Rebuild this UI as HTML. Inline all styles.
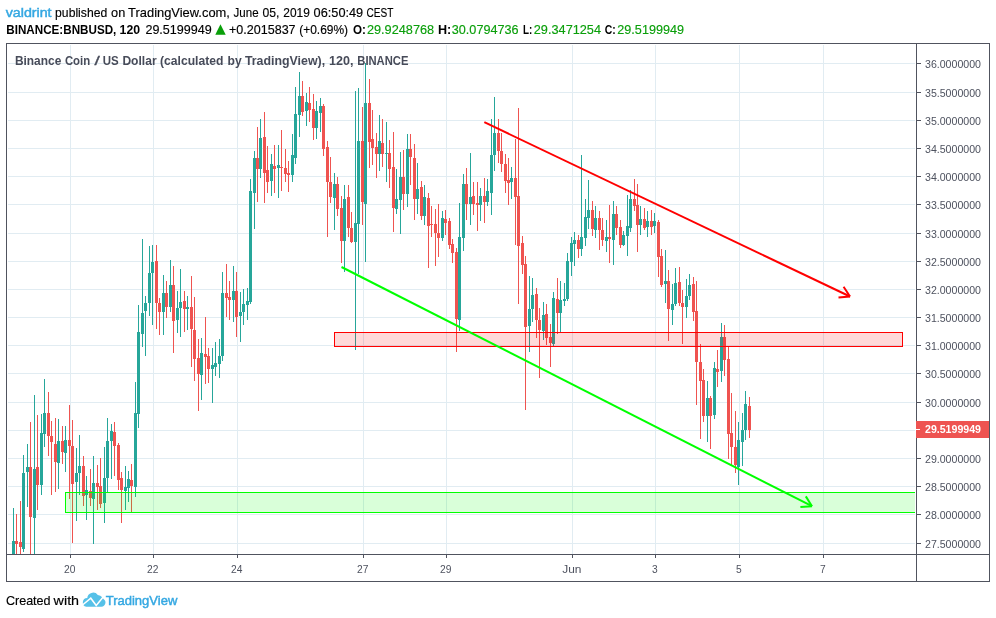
<!DOCTYPE html>
<html lang="en"><head><meta charset="utf-8"><title>BNBUSD chart by valdrint - TradingView</title>
<style>
html,body{margin:0;padding:0;background:#fff;}
body{width:996px;height:618px;overflow:hidden;position:relative;font-family:"Liberation Sans",sans-serif;}
svg{position:absolute;left:0;top:0;display:block;}
text{font-family:"Liberation Sans",sans-serif;}
.ax{font-size:10.6px;fill:#4e525f;}
.hd{font-size:12.7px;fill:#000;stroke:#000;stroke-width:0.15px;}
.b{font-weight:bold;stroke-width:0;}
.gn{fill:#0a9f0a;stroke:#0a9f0a;}
.bl{fill:#35a8e2;stroke:#35a8e2;stroke-width:0.45px;}
.tt{font-size:12.8px;font-weight:bold;fill:#474b59;}
.cs rect{shape-rendering:crispEdges;}
</style></head><body>
<svg width="996" height="618" viewBox="0 0 996 618">
<rect x="0" y="0" width="996" height="618" fill="#fff"/>
<g class="cs" fill="#e1ecf2">
<rect x="8" y="63" width="907" height="1"/>
<rect x="8" y="92" width="907" height="1"/>
<rect x="8" y="120" width="907" height="1"/>
<rect x="8" y="148" width="907" height="1"/>
<rect x="8" y="176" width="907" height="1"/>
<rect x="8" y="204" width="907" height="1"/>
<rect x="8" y="233" width="907" height="1"/>
<rect x="8" y="261" width="907" height="1"/>
<rect x="8" y="289" width="907" height="1"/>
<rect x="8" y="317" width="907" height="1"/>
<rect x="8" y="345" width="907" height="1"/>
<rect x="8" y="373" width="907" height="1"/>
<rect x="8" y="402" width="907" height="1"/>
<rect x="8" y="430" width="907" height="1"/>
<rect x="8" y="458" width="907" height="1"/>
<rect x="8" y="486" width="907" height="1"/>
<rect x="8" y="514" width="907" height="1"/>
<rect x="8" y="543" width="907" height="1"/>
<rect x="70" y="45" width="1" height="509"/>
<rect x="153" y="45" width="1" height="509"/>
<rect x="237" y="45" width="1" height="509"/>
<rect x="363" y="45" width="1" height="509"/>
<rect x="446" y="45" width="1" height="509"/>
<rect x="572" y="45" width="1" height="509"/>
<rect x="655" y="45" width="1" height="509"/>
<rect x="739" y="45" width="1" height="509"/>
<rect x="823" y="45" width="1" height="509"/>
</g>
<g class="cs">
<rect x="13" y="508" width="1" height="46" fill="#26a69a"/>
<rect x="12" y="541" width="3" height="13" fill="#26a69a"/>
<rect x="16" y="514" width="1" height="40" fill="#ef5350"/>
<rect x="15" y="541" width="3" height="3" fill="#ef5350"/>
<rect x="20" y="501" width="1" height="53" fill="#ef5350"/>
<rect x="19" y="542" width="3" height="5" fill="#ef5350"/>
<rect x="23" y="455" width="1" height="97" fill="#26a69a"/>
<rect x="22" y="473" width="3" height="76" fill="#26a69a"/>
<rect x="27" y="444" width="1" height="63" fill="#26a69a"/>
<rect x="26" y="467" width="3" height="5" fill="#26a69a"/>
<rect x="30" y="422" width="1" height="132" fill="#ef5350"/>
<rect x="29" y="467" width="3" height="50" fill="#ef5350"/>
<rect x="34" y="395" width="1" height="159" fill="#26a69a"/>
<rect x="33" y="469" width="3" height="49" fill="#26a69a"/>
<rect x="37" y="415" width="1" height="95" fill="#ef5350"/>
<rect x="36" y="467" width="3" height="18" fill="#ef5350"/>
<rect x="41" y="414" width="1" height="81" fill="#26a69a"/>
<rect x="40" y="433" width="3" height="52" fill="#26a69a"/>
<rect x="44" y="379" width="1" height="68" fill="#26a69a"/>
<rect x="43" y="413" width="3" height="21" fill="#26a69a"/>
<rect x="48" y="392" width="1" height="64" fill="#ef5350"/>
<rect x="47" y="413" width="3" height="23" fill="#ef5350"/>
<rect x="51" y="421" width="1" height="74" fill="#ef5350"/>
<rect x="50" y="436" width="3" height="6" fill="#ef5350"/>
<rect x="55" y="418" width="1" height="74" fill="#ef5350"/>
<rect x="54" y="444" width="3" height="18" fill="#ef5350"/>
<rect x="58" y="419" width="1" height="70" fill="#26a69a"/>
<rect x="57" y="441" width="3" height="22" fill="#26a69a"/>
<rect x="62" y="426" width="1" height="38" fill="#ef5350"/>
<rect x="61" y="441" width="3" height="11" fill="#ef5350"/>
<rect x="65" y="426" width="1" height="46" fill="#26a69a"/>
<rect x="64" y="440" width="3" height="13" fill="#26a69a"/>
<rect x="69" y="405" width="1" height="94" fill="#ef5350"/>
<rect x="68" y="440" width="3" height="6" fill="#ef5350"/>
<rect x="72" y="420" width="1" height="123" fill="#ef5350"/>
<rect x="71" y="446" width="3" height="38" fill="#ef5350"/>
<rect x="76" y="448" width="1" height="73" fill="#26a69a"/>
<rect x="75" y="473" width="3" height="9" fill="#26a69a"/>
<rect x="79" y="435" width="1" height="60" fill="#26a69a"/>
<rect x="78" y="466" width="3" height="7" fill="#26a69a"/>
<rect x="83" y="456" width="1" height="50" fill="#ef5350"/>
<rect x="82" y="466" width="3" height="30" fill="#ef5350"/>
<rect x="86" y="476" width="1" height="44" fill="#26a69a"/>
<rect x="85" y="490" width="3" height="5" fill="#26a69a"/>
<rect x="90" y="469" width="1" height="37" fill="#ef5350"/>
<rect x="89" y="491" width="3" height="7" fill="#ef5350"/>
<rect x="93" y="456" width="1" height="88" fill="#26a69a"/>
<rect x="92" y="483" width="3" height="16" fill="#26a69a"/>
<rect x="97" y="465" width="1" height="45" fill="#ef5350"/>
<rect x="96" y="483" width="3" height="4" fill="#ef5350"/>
<rect x="100" y="458" width="1" height="50" fill="#ef5350"/>
<rect x="99" y="486" width="3" height="18" fill="#ef5350"/>
<rect x="104" y="447" width="1" height="76" fill="#26a69a"/>
<rect x="103" y="478" width="3" height="25" fill="#26a69a"/>
<rect x="107" y="418" width="1" height="75" fill="#26a69a"/>
<rect x="106" y="441" width="3" height="37" fill="#26a69a"/>
<rect x="111" y="424" width="1" height="55" fill="#26a69a"/>
<rect x="110" y="431" width="3" height="10" fill="#26a69a"/>
<rect x="114" y="422" width="1" height="54" fill="#ef5350"/>
<rect x="113" y="432" width="3" height="14" fill="#ef5350"/>
<rect x="118" y="443" width="1" height="47" fill="#ef5350"/>
<rect x="117" y="445" width="3" height="35" fill="#ef5350"/>
<rect x="121" y="472" width="1" height="51" fill="#ef5350"/>
<rect x="120" y="478" width="3" height="12" fill="#ef5350"/>
<rect x="125" y="466" width="1" height="44" fill="#26a69a"/>
<rect x="124" y="487" width="3" height="4" fill="#26a69a"/>
<rect x="128" y="471" width="1" height="31" fill="#26a69a"/>
<rect x="127" y="479" width="3" height="9" fill="#26a69a"/>
<rect x="131" y="464" width="1" height="48" fill="#ef5350"/>
<rect x="130" y="480" width="3" height="6" fill="#ef5350"/>
<rect x="135" y="382" width="1" height="115" fill="#26a69a"/>
<rect x="134" y="413" width="3" height="74" fill="#26a69a"/>
<rect x="138" y="305" width="1" height="123" fill="#26a69a"/>
<rect x="137" y="332" width="3" height="82" fill="#26a69a"/>
<rect x="142" y="239" width="1" height="108" fill="#26a69a"/>
<rect x="141" y="313" width="3" height="21" fill="#26a69a"/>
<rect x="145" y="296" width="1" height="60" fill="#26a69a"/>
<rect x="144" y="303" width="3" height="8" fill="#26a69a"/>
<rect x="149" y="246" width="1" height="70" fill="#26a69a"/>
<rect x="148" y="273" width="3" height="30" fill="#26a69a"/>
<rect x="152" y="245" width="1" height="80" fill="#26a69a"/>
<rect x="151" y="262" width="3" height="11" fill="#26a69a"/>
<rect x="156" y="245" width="1" height="84" fill="#ef5350"/>
<rect x="155" y="261" width="3" height="42" fill="#ef5350"/>
<rect x="159" y="298" width="1" height="37" fill="#ef5350"/>
<rect x="158" y="303" width="3" height="9" fill="#ef5350"/>
<rect x="163" y="275" width="1" height="60" fill="#26a69a"/>
<rect x="162" y="293" width="3" height="19" fill="#26a69a"/>
<rect x="166" y="281" width="1" height="37" fill="#ef5350"/>
<rect x="165" y="293" width="3" height="14" fill="#ef5350"/>
<rect x="170" y="260" width="1" height="52" fill="#26a69a"/>
<rect x="169" y="285" width="3" height="22" fill="#26a69a"/>
<rect x="173" y="266" width="1" height="87" fill="#ef5350"/>
<rect x="172" y="285" width="3" height="36" fill="#ef5350"/>
<rect x="177" y="291" width="1" height="42" fill="#26a69a"/>
<rect x="176" y="308" width="3" height="12" fill="#26a69a"/>
<rect x="180" y="269" width="1" height="68" fill="#26a69a"/>
<rect x="179" y="302" width="3" height="6" fill="#26a69a"/>
<rect x="184" y="291" width="1" height="41" fill="#ef5350"/>
<rect x="183" y="301" width="3" height="8" fill="#ef5350"/>
<rect x="187" y="296" width="1" height="34" fill="#26a69a"/>
<rect x="186" y="307" width="3" height="2" fill="#26a69a"/>
<rect x="191" y="276" width="1" height="91" fill="#ef5350"/>
<rect x="190" y="307" width="3" height="22" fill="#ef5350"/>
<rect x="194" y="297" width="1" height="84" fill="#ef5350"/>
<rect x="193" y="330" width="3" height="29" fill="#ef5350"/>
<rect x="198" y="339" width="1" height="72" fill="#ef5350"/>
<rect x="197" y="358" width="3" height="16" fill="#ef5350"/>
<rect x="201" y="338" width="1" height="62" fill="#26a69a"/>
<rect x="200" y="353" width="3" height="22" fill="#26a69a"/>
<rect x="205" y="317" width="1" height="67" fill="#ef5350"/>
<rect x="204" y="354" width="3" height="3" fill="#ef5350"/>
<rect x="208" y="348" width="1" height="35" fill="#ef5350"/>
<rect x="207" y="356" width="3" height="13" fill="#ef5350"/>
<rect x="212" y="348" width="1" height="55" fill="#26a69a"/>
<rect x="211" y="365" width="3" height="4" fill="#26a69a"/>
<rect x="215" y="342" width="1" height="34" fill="#26a69a"/>
<rect x="214" y="363" width="3" height="4" fill="#26a69a"/>
<rect x="219" y="339" width="1" height="39" fill="#26a69a"/>
<rect x="218" y="356" width="3" height="8" fill="#26a69a"/>
<rect x="222" y="272" width="1" height="89" fill="#26a69a"/>
<rect x="221" y="293" width="3" height="63" fill="#26a69a"/>
<rect x="226" y="264" width="1" height="53" fill="#ef5350"/>
<rect x="225" y="293" width="3" height="5" fill="#ef5350"/>
<rect x="229" y="281" width="1" height="39" fill="#ef5350"/>
<rect x="228" y="297" width="3" height="3" fill="#ef5350"/>
<rect x="233" y="266" width="1" height="56" fill="#26a69a"/>
<rect x="232" y="291" width="3" height="9" fill="#26a69a"/>
<rect x="236" y="272" width="1" height="65" fill="#ef5350"/>
<rect x="235" y="291" width="3" height="26" fill="#ef5350"/>
<rect x="240" y="292" width="1" height="50" fill="#26a69a"/>
<rect x="239" y="312" width="3" height="4" fill="#26a69a"/>
<rect x="243" y="289" width="1" height="36" fill="#26a69a"/>
<rect x="242" y="304" width="3" height="8" fill="#26a69a"/>
<rect x="247" y="288" width="1" height="32" fill="#26a69a"/>
<rect x="246" y="301" width="3" height="4" fill="#26a69a"/>
<rect x="250" y="179" width="1" height="125" fill="#26a69a"/>
<rect x="249" y="191" width="3" height="111" fill="#26a69a"/>
<rect x="254" y="151" width="1" height="78" fill="#26a69a"/>
<rect x="253" y="158" width="3" height="35" fill="#26a69a"/>
<rect x="257" y="127" width="1" height="75" fill="#ef5350"/>
<rect x="256" y="158" width="3" height="11" fill="#ef5350"/>
<rect x="260" y="119" width="1" height="59" fill="#26a69a"/>
<rect x="259" y="138" width="3" height="31" fill="#26a69a"/>
<rect x="264" y="112" width="1" height="91" fill="#ef5350"/>
<rect x="263" y="137" width="3" height="36" fill="#ef5350"/>
<rect x="267" y="146" width="1" height="47" fill="#ef5350"/>
<rect x="266" y="170" width="3" height="12" fill="#ef5350"/>
<rect x="271" y="154" width="1" height="42" fill="#26a69a"/>
<rect x="270" y="164" width="3" height="17" fill="#26a69a"/>
<rect x="274" y="145" width="1" height="48" fill="#ef5350"/>
<rect x="273" y="166" width="3" height="3" fill="#ef5350"/>
<rect x="278" y="145" width="1" height="53" fill="#26a69a"/>
<rect x="277" y="165" width="3" height="3" fill="#26a69a"/>
<rect x="281" y="130" width="1" height="61" fill="#ef5350"/>
<rect x="280" y="167" width="3" height="1" fill="#ef5350"/>
<rect x="285" y="149" width="1" height="33" fill="#ef5350"/>
<rect x="284" y="168" width="3" height="6" fill="#ef5350"/>
<rect x="288" y="161" width="1" height="31" fill="#ef5350"/>
<rect x="287" y="173" width="3" height="2" fill="#ef5350"/>
<rect x="292" y="134" width="1" height="48" fill="#26a69a"/>
<rect x="291" y="155" width="3" height="20" fill="#26a69a"/>
<rect x="295" y="87" width="1" height="77" fill="#26a69a"/>
<rect x="294" y="114" width="3" height="44" fill="#26a69a"/>
<rect x="299" y="72" width="1" height="65" fill="#26a69a"/>
<rect x="298" y="96" width="3" height="19" fill="#26a69a"/>
<rect x="302" y="81" width="1" height="35" fill="#ef5350"/>
<rect x="301" y="96" width="3" height="16" fill="#ef5350"/>
<rect x="306" y="93" width="1" height="33" fill="#26a69a"/>
<rect x="305" y="102" width="3" height="9" fill="#26a69a"/>
<rect x="309" y="87" width="1" height="35" fill="#ef5350"/>
<rect x="308" y="103" width="3" height="7" fill="#ef5350"/>
<rect x="313" y="94" width="1" height="46" fill="#ef5350"/>
<rect x="312" y="109" width="3" height="19" fill="#ef5350"/>
<rect x="316" y="101" width="1" height="38" fill="#26a69a"/>
<rect x="315" y="111" width="3" height="17" fill="#26a69a"/>
<rect x="320" y="98" width="1" height="34" fill="#26a69a"/>
<rect x="319" y="106" width="3" height="7" fill="#26a69a"/>
<rect x="323" y="104" width="1" height="52" fill="#ef5350"/>
<rect x="322" y="106" width="3" height="43" fill="#ef5350"/>
<rect x="327" y="141" width="1" height="96" fill="#ef5350"/>
<rect x="326" y="147" width="3" height="35" fill="#ef5350"/>
<rect x="330" y="157" width="1" height="46" fill="#ef5350"/>
<rect x="329" y="182" width="3" height="15" fill="#ef5350"/>
<rect x="334" y="173" width="1" height="57" fill="#26a69a"/>
<rect x="333" y="184" width="3" height="14" fill="#26a69a"/>
<rect x="337" y="177" width="1" height="39" fill="#ef5350"/>
<rect x="336" y="184" width="3" height="25" fill="#ef5350"/>
<rect x="341" y="196" width="1" height="67" fill="#ef5350"/>
<rect x="340" y="208" width="3" height="33" fill="#ef5350"/>
<rect x="344" y="185" width="1" height="87" fill="#26a69a"/>
<rect x="343" y="199" width="3" height="42" fill="#26a69a"/>
<rect x="348" y="185" width="1" height="52" fill="#ef5350"/>
<rect x="347" y="197" width="3" height="31" fill="#ef5350"/>
<rect x="351" y="212" width="1" height="31" fill="#ef5350"/>
<rect x="350" y="228" width="3" height="14" fill="#ef5350"/>
<rect x="355" y="91" width="1" height="259" fill="#26a69a"/>
<rect x="354" y="223" width="3" height="19" fill="#26a69a"/>
<rect x="358" y="88" width="1" height="186" fill="#26a69a"/>
<rect x="357" y="141" width="3" height="83" fill="#26a69a"/>
<rect x="362" y="107" width="1" height="118" fill="#ef5350"/>
<rect x="361" y="141" width="3" height="61" fill="#ef5350"/>
<rect x="365" y="63" width="1" height="199" fill="#26a69a"/>
<rect x="364" y="103" width="3" height="101" fill="#26a69a"/>
<rect x="369" y="79" width="1" height="89" fill="#ef5350"/>
<rect x="368" y="103" width="3" height="39" fill="#ef5350"/>
<rect x="372" y="110" width="1" height="55" fill="#ef5350"/>
<rect x="371" y="139" width="3" height="9" fill="#ef5350"/>
<rect x="376" y="133" width="1" height="45" fill="#ef5350"/>
<rect x="375" y="147" width="3" height="7" fill="#ef5350"/>
<rect x="379" y="115" width="1" height="56" fill="#26a69a"/>
<rect x="378" y="141" width="3" height="13" fill="#26a69a"/>
<rect x="382" y="119" width="1" height="48" fill="#ef5350"/>
<rect x="381" y="143" width="3" height="11" fill="#ef5350"/>
<rect x="386" y="122" width="1" height="60" fill="#26a69a"/>
<rect x="385" y="153" width="3" height="1" fill="#26a69a"/>
<rect x="389" y="140" width="1" height="48" fill="#ef5350"/>
<rect x="388" y="153" width="3" height="16" fill="#ef5350"/>
<rect x="393" y="132" width="1" height="100" fill="#ef5350"/>
<rect x="392" y="167" width="3" height="41" fill="#ef5350"/>
<rect x="396" y="169" width="1" height="45" fill="#26a69a"/>
<rect x="395" y="199" width="3" height="10" fill="#26a69a"/>
<rect x="400" y="152" width="1" height="82" fill="#26a69a"/>
<rect x="399" y="177" width="3" height="23" fill="#26a69a"/>
<rect x="403" y="150" width="1" height="60" fill="#ef5350"/>
<rect x="402" y="177" width="3" height="17" fill="#ef5350"/>
<rect x="407" y="134" width="1" height="73" fill="#26a69a"/>
<rect x="406" y="149" width="3" height="45" fill="#26a69a"/>
<rect x="410" y="134" width="1" height="51" fill="#ef5350"/>
<rect x="409" y="149" width="3" height="8" fill="#ef5350"/>
<rect x="414" y="144" width="1" height="76" fill="#ef5350"/>
<rect x="413" y="158" width="3" height="41" fill="#ef5350"/>
<rect x="417" y="163" width="1" height="51" fill="#26a69a"/>
<rect x="416" y="189" width="3" height="10" fill="#26a69a"/>
<rect x="421" y="181" width="1" height="39" fill="#ef5350"/>
<rect x="420" y="187" width="3" height="29" fill="#ef5350"/>
<rect x="424" y="185" width="1" height="40" fill="#26a69a"/>
<rect x="423" y="197" width="3" height="19" fill="#26a69a"/>
<rect x="428" y="193" width="1" height="75" fill="#ef5350"/>
<rect x="427" y="198" width="3" height="28" fill="#ef5350"/>
<rect x="431" y="206" width="1" height="31" fill="#ef5350"/>
<rect x="430" y="224" width="3" height="1" fill="#ef5350"/>
<rect x="435" y="209" width="1" height="57" fill="#ef5350"/>
<rect x="434" y="224" width="3" height="9" fill="#ef5350"/>
<rect x="438" y="204" width="1" height="53" fill="#ef5350"/>
<rect x="437" y="233" width="3" height="5" fill="#ef5350"/>
<rect x="442" y="211" width="1" height="30" fill="#26a69a"/>
<rect x="441" y="218" width="3" height="20" fill="#26a69a"/>
<rect x="445" y="210" width="1" height="25" fill="#ef5350"/>
<rect x="444" y="219" width="3" height="4" fill="#ef5350"/>
<rect x="449" y="218" width="1" height="31" fill="#ef5350"/>
<rect x="448" y="221" width="3" height="24" fill="#ef5350"/>
<rect x="452" y="239" width="1" height="24" fill="#ef5350"/>
<rect x="451" y="244" width="3" height="9" fill="#ef5350"/>
<rect x="456" y="248" width="1" height="104" fill="#ef5350"/>
<rect x="455" y="252" width="3" height="67" fill="#ef5350"/>
<rect x="459" y="203" width="1" height="128" fill="#26a69a"/>
<rect x="458" y="237" width="3" height="83" fill="#26a69a"/>
<rect x="463" y="174" width="1" height="77" fill="#26a69a"/>
<rect x="462" y="184" width="3" height="54" fill="#26a69a"/>
<rect x="466" y="168" width="1" height="52" fill="#ef5350"/>
<rect x="465" y="184" width="3" height="20" fill="#ef5350"/>
<rect x="470" y="153" width="1" height="72" fill="#26a69a"/>
<rect x="469" y="197" width="3" height="7" fill="#26a69a"/>
<rect x="473" y="182" width="1" height="33" fill="#ef5350"/>
<rect x="472" y="196" width="3" height="8" fill="#ef5350"/>
<rect x="477" y="182" width="1" height="49" fill="#ef5350"/>
<rect x="476" y="203" width="3" height="2" fill="#ef5350"/>
<rect x="480" y="188" width="1" height="33" fill="#26a69a"/>
<rect x="479" y="196" width="3" height="9" fill="#26a69a"/>
<rect x="484" y="178" width="1" height="45" fill="#ef5350"/>
<rect x="483" y="196" width="3" height="6" fill="#ef5350"/>
<rect x="487" y="179" width="1" height="27" fill="#26a69a"/>
<rect x="486" y="191" width="3" height="11" fill="#26a69a"/>
<rect x="491" y="119" width="1" height="96" fill="#26a69a"/>
<rect x="490" y="155" width="3" height="38" fill="#26a69a"/>
<rect x="494" y="97" width="1" height="74" fill="#26a69a"/>
<rect x="493" y="133" width="3" height="22" fill="#26a69a"/>
<rect x="498" y="119" width="1" height="44" fill="#ef5350"/>
<rect x="497" y="133" width="3" height="18" fill="#ef5350"/>
<rect x="501" y="133" width="1" height="39" fill="#ef5350"/>
<rect x="500" y="151" width="3" height="13" fill="#ef5350"/>
<rect x="505" y="154" width="1" height="39" fill="#ef5350"/>
<rect x="504" y="164" width="3" height="17" fill="#ef5350"/>
<rect x="508" y="158" width="1" height="47" fill="#ef5350"/>
<rect x="507" y="180" width="3" height="3" fill="#ef5350"/>
<rect x="511" y="167" width="1" height="32" fill="#26a69a"/>
<rect x="510" y="178" width="3" height="4" fill="#26a69a"/>
<rect x="515" y="139" width="1" height="106" fill="#ef5350"/>
<rect x="514" y="178" width="3" height="19" fill="#ef5350"/>
<rect x="518" y="108" width="1" height="196" fill="#ef5350"/>
<rect x="517" y="196" width="3" height="50" fill="#ef5350"/>
<rect x="522" y="236" width="1" height="38" fill="#ef5350"/>
<rect x="521" y="243" width="3" height="22" fill="#ef5350"/>
<rect x="525" y="256" width="1" height="154" fill="#ef5350"/>
<rect x="524" y="264" width="3" height="63" fill="#ef5350"/>
<rect x="529" y="276" width="1" height="76" fill="#26a69a"/>
<rect x="528" y="309" width="3" height="17" fill="#26a69a"/>
<rect x="532" y="278" width="1" height="44" fill="#26a69a"/>
<rect x="531" y="295" width="3" height="14" fill="#26a69a"/>
<rect x="536" y="288" width="1" height="50" fill="#ef5350"/>
<rect x="535" y="294" width="3" height="26" fill="#ef5350"/>
<rect x="539" y="308" width="1" height="70" fill="#ef5350"/>
<rect x="538" y="320" width="3" height="10" fill="#ef5350"/>
<rect x="543" y="302" width="1" height="38" fill="#26a69a"/>
<rect x="542" y="315" width="3" height="16" fill="#26a69a"/>
<rect x="546" y="304" width="1" height="41" fill="#ef5350"/>
<rect x="545" y="314" width="3" height="24" fill="#ef5350"/>
<rect x="550" y="324" width="1" height="43" fill="#ef5350"/>
<rect x="549" y="337" width="3" height="6" fill="#ef5350"/>
<rect x="553" y="292" width="1" height="54" fill="#26a69a"/>
<rect x="552" y="298" width="3" height="46" fill="#26a69a"/>
<rect x="557" y="278" width="1" height="56" fill="#ef5350"/>
<rect x="556" y="299" width="3" height="14" fill="#ef5350"/>
<rect x="560" y="281" width="1" height="51" fill="#26a69a"/>
<rect x="559" y="300" width="3" height="13" fill="#26a69a"/>
<rect x="564" y="283" width="1" height="23" fill="#26a69a"/>
<rect x="563" y="299" width="3" height="2" fill="#26a69a"/>
<rect x="567" y="253" width="1" height="48" fill="#26a69a"/>
<rect x="566" y="261" width="3" height="38" fill="#26a69a"/>
<rect x="571" y="237" width="1" height="39" fill="#26a69a"/>
<rect x="570" y="243" width="3" height="19" fill="#26a69a"/>
<rect x="574" y="232" width="1" height="34" fill="#26a69a"/>
<rect x="573" y="240" width="3" height="4" fill="#26a69a"/>
<rect x="578" y="235" width="1" height="23" fill="#ef5350"/>
<rect x="577" y="240" width="3" height="9" fill="#ef5350"/>
<rect x="581" y="155" width="1" height="101" fill="#26a69a"/>
<rect x="580" y="237" width="3" height="12" fill="#26a69a"/>
<rect x="585" y="199" width="1" height="47" fill="#26a69a"/>
<rect x="584" y="217" width="3" height="21" fill="#26a69a"/>
<rect x="588" y="180" width="1" height="49" fill="#26a69a"/>
<rect x="587" y="210" width="3" height="8" fill="#26a69a"/>
<rect x="592" y="201" width="1" height="35" fill="#ef5350"/>
<rect x="591" y="210" width="3" height="19" fill="#ef5350"/>
<rect x="595" y="206" width="1" height="32" fill="#26a69a"/>
<rect x="594" y="218" width="3" height="12" fill="#26a69a"/>
<rect x="599" y="211" width="1" height="39" fill="#ef5350"/>
<rect x="598" y="218" width="3" height="12" fill="#ef5350"/>
<rect x="602" y="218" width="1" height="28" fill="#ef5350"/>
<rect x="601" y="230" width="3" height="10" fill="#ef5350"/>
<rect x="606" y="220" width="1" height="32" fill="#26a69a"/>
<rect x="605" y="237" width="3" height="4" fill="#26a69a"/>
<rect x="609" y="205" width="1" height="58" fill="#ef5350"/>
<rect x="608" y="237" width="3" height="2" fill="#ef5350"/>
<rect x="613" y="201" width="1" height="64" fill="#26a69a"/>
<rect x="612" y="214" width="3" height="26" fill="#26a69a"/>
<rect x="616" y="206" width="1" height="29" fill="#ef5350"/>
<rect x="615" y="214" width="3" height="14" fill="#ef5350"/>
<rect x="620" y="220" width="1" height="28" fill="#ef5350"/>
<rect x="619" y="227" width="3" height="18" fill="#ef5350"/>
<rect x="623" y="231" width="1" height="15" fill="#26a69a"/>
<rect x="622" y="235" width="3" height="10" fill="#26a69a"/>
<rect x="627" y="195" width="1" height="61" fill="#26a69a"/>
<rect x="626" y="226" width="3" height="10" fill="#26a69a"/>
<rect x="630" y="190" width="1" height="42" fill="#26a69a"/>
<rect x="629" y="199" width="3" height="29" fill="#26a69a"/>
<rect x="634" y="179" width="1" height="32" fill="#ef5350"/>
<rect x="633" y="199" width="3" height="7" fill="#ef5350"/>
<rect x="637" y="184" width="1" height="68" fill="#ef5350"/>
<rect x="636" y="205" width="3" height="20" fill="#ef5350"/>
<rect x="640" y="206" width="1" height="29" fill="#26a69a"/>
<rect x="639" y="219" width="3" height="6" fill="#26a69a"/>
<rect x="644" y="208" width="1" height="22" fill="#ef5350"/>
<rect x="643" y="219" width="3" height="9" fill="#ef5350"/>
<rect x="647" y="211" width="1" height="26" fill="#26a69a"/>
<rect x="646" y="221" width="3" height="6" fill="#26a69a"/>
<rect x="651" y="210" width="1" height="25" fill="#ef5350"/>
<rect x="650" y="221" width="3" height="6" fill="#ef5350"/>
<rect x="654" y="213" width="1" height="20" fill="#26a69a"/>
<rect x="653" y="221" width="3" height="5" fill="#26a69a"/>
<rect x="658" y="220" width="1" height="57" fill="#ef5350"/>
<rect x="657" y="222" width="3" height="35" fill="#ef5350"/>
<rect x="661" y="249" width="1" height="38" fill="#ef5350"/>
<rect x="660" y="256" width="3" height="29" fill="#ef5350"/>
<rect x="665" y="250" width="1" height="53" fill="#26a69a"/>
<rect x="664" y="281" width="3" height="3" fill="#26a69a"/>
<rect x="668" y="270" width="1" height="71" fill="#ef5350"/>
<rect x="667" y="281" width="3" height="28" fill="#ef5350"/>
<rect x="672" y="284" width="1" height="41" fill="#26a69a"/>
<rect x="671" y="304" width="3" height="6" fill="#26a69a"/>
<rect x="675" y="268" width="1" height="38" fill="#26a69a"/>
<rect x="674" y="283" width="3" height="21" fill="#26a69a"/>
<rect x="679" y="267" width="1" height="39" fill="#ef5350"/>
<rect x="678" y="282" width="3" height="21" fill="#ef5350"/>
<rect x="682" y="290" width="1" height="54" fill="#ef5350"/>
<rect x="681" y="303" width="3" height="4" fill="#ef5350"/>
<rect x="686" y="279" width="1" height="39" fill="#26a69a"/>
<rect x="685" y="296" width="3" height="11" fill="#26a69a"/>
<rect x="689" y="274" width="1" height="26" fill="#26a69a"/>
<rect x="688" y="285" width="3" height="11" fill="#26a69a"/>
<rect x="693" y="277" width="1" height="44" fill="#ef5350"/>
<rect x="692" y="284" width="3" height="28" fill="#ef5350"/>
<rect x="696" y="281" width="1" height="124" fill="#ef5350"/>
<rect x="695" y="311" width="3" height="51" fill="#ef5350"/>
<rect x="700" y="344" width="1" height="95" fill="#ef5350"/>
<rect x="699" y="362" width="3" height="19" fill="#ef5350"/>
<rect x="703" y="369" width="1" height="53" fill="#ef5350"/>
<rect x="702" y="380" width="3" height="36" fill="#ef5350"/>
<rect x="707" y="381" width="1" height="61" fill="#26a69a"/>
<rect x="706" y="398" width="3" height="18" fill="#26a69a"/>
<rect x="710" y="396" width="1" height="53" fill="#ef5350"/>
<rect x="709" y="398" width="3" height="18" fill="#ef5350"/>
<rect x="714" y="362" width="1" height="57" fill="#26a69a"/>
<rect x="713" y="368" width="3" height="47" fill="#26a69a"/>
<rect x="717" y="350" width="1" height="37" fill="#ef5350"/>
<rect x="716" y="369" width="3" height="3" fill="#ef5350"/>
<rect x="721" y="323" width="1" height="59" fill="#26a69a"/>
<rect x="720" y="337" width="3" height="34" fill="#26a69a"/>
<rect x="724" y="325" width="1" height="51" fill="#ef5350"/>
<rect x="723" y="337" width="3" height="23" fill="#ef5350"/>
<rect x="728" y="346" width="1" height="113" fill="#ef5350"/>
<rect x="727" y="359" width="3" height="75" fill="#ef5350"/>
<rect x="731" y="393" width="1" height="72" fill="#ef5350"/>
<rect x="730" y="433" width="3" height="14" fill="#ef5350"/>
<rect x="735" y="411" width="1" height="62" fill="#ef5350"/>
<rect x="734" y="447" width="3" height="18" fill="#ef5350"/>
<rect x="738" y="422" width="1" height="63" fill="#26a69a"/>
<rect x="737" y="440" width="3" height="27" fill="#26a69a"/>
<rect x="742" y="413" width="1" height="53" fill="#26a69a"/>
<rect x="741" y="430" width="3" height="12" fill="#26a69a"/>
<rect x="745" y="391" width="1" height="49" fill="#26a69a"/>
<rect x="744" y="404" width="3" height="26" fill="#26a69a"/>
<rect x="749" y="397" width="1" height="41" fill="#ef5350"/>
<rect x="748" y="406" width="3" height="24" fill="#ef5350"/>
</g>
<g>
<rect x="334.5" y="332.5" width="568" height="14" fill="rgba(255,0,0,0.15)" stroke="#ff0000" stroke-width="1" shape-rendering="crispEdges"/>
<g class="cs"><rect x="65" y="492" width="850" height="21" fill="rgba(0,255,0,0.15)"/><rect x="65" y="492" width="850" height="1" fill="#00ff00"/><rect x="65" y="512" width="850" height="1" fill="#00ff00"/><rect x="65" y="492" width="1" height="21" fill="#00ff00"/></g>
<line x1="484.3" y1="122.2" x2="850.0" y2="296.5" stroke="#ff0000" stroke-width="2" stroke-linecap="butt"/><line x1="850.0" y1="296.5" x2="843.6" y2="286.8" stroke="#ff0000" stroke-width="2" stroke-linecap="butt"/><line x1="850.0" y1="296.5" x2="838.5" y2="297.6" stroke="#ff0000" stroke-width="2" stroke-linecap="butt"/>
<line x1="341.5" y1="267.0" x2="812.0" y2="506.2" stroke="#00ff00" stroke-width="2" stroke-linecap="butt"/><line x1="812.0" y1="506.2" x2="805.8" y2="496.4" stroke="#00ff00" stroke-width="2" stroke-linecap="butt"/><line x1="812.0" y1="506.2" x2="800.4" y2="507.0" stroke="#00ff00" stroke-width="2" stroke-linecap="butt"/>
</g>
<g class="cs" fill="#50535e">
<rect x="6" y="43" width="984" height="1"/>
<rect x="6" y="581" width="984" height="1"/>
<rect x="6" y="43" width="1" height="539"/>
<rect x="989" y="43" width="1" height="539"/>
<rect x="916" y="43" width="1" height="539"/>
<rect x="6" y="554" width="984" height="1"/>
<rect x="917" y="63" width="4" height="1"/>
<rect x="917" y="92" width="4" height="1"/>
<rect x="917" y="120" width="4" height="1"/>
<rect x="917" y="148" width="4" height="1"/>
<rect x="917" y="176" width="4" height="1"/>
<rect x="917" y="204" width="4" height="1"/>
<rect x="917" y="233" width="4" height="1"/>
<rect x="917" y="261" width="4" height="1"/>
<rect x="917" y="289" width="4" height="1"/>
<rect x="917" y="317" width="4" height="1"/>
<rect x="917" y="345" width="4" height="1"/>
<rect x="917" y="373" width="4" height="1"/>
<rect x="917" y="402" width="4" height="1"/>
<rect x="917" y="430" width="4" height="1"/>
<rect x="917" y="458" width="4" height="1"/>
<rect x="917" y="486" width="4" height="1"/>
<rect x="917" y="514" width="4" height="1"/>
<rect x="917" y="543" width="4" height="1"/>
<rect x="70" y="555" width="1" height="3"/>
<rect x="153" y="555" width="1" height="3"/>
<rect x="237" y="555" width="1" height="3"/>
<rect x="363" y="555" width="1" height="3"/>
<rect x="446" y="555" width="1" height="3"/>
<rect x="572" y="555" width="1" height="3"/>
<rect x="655" y="555" width="1" height="3"/>
<rect x="739" y="555" width="1" height="3"/>
<rect x="823" y="555" width="1" height="3"/>
</g>
<g class="ax">
<text x="925" y="67.9" textLength="56" lengthAdjust="spacingAndGlyphs">36.0000000</text>
<text x="925" y="96.9" textLength="56" lengthAdjust="spacingAndGlyphs">35.5000000</text>
<text x="925" y="124.9" textLength="56" lengthAdjust="spacingAndGlyphs">35.0000000</text>
<text x="925" y="152.9" textLength="56" lengthAdjust="spacingAndGlyphs">34.5000000</text>
<text x="925" y="180.9" textLength="56" lengthAdjust="spacingAndGlyphs">34.0000000</text>
<text x="925" y="208.9" textLength="56" lengthAdjust="spacingAndGlyphs">33.5000000</text>
<text x="925" y="237.9" textLength="56" lengthAdjust="spacingAndGlyphs">33.0000000</text>
<text x="925" y="265.9" textLength="56" lengthAdjust="spacingAndGlyphs">32.5000000</text>
<text x="925" y="293.9" textLength="56" lengthAdjust="spacingAndGlyphs">32.0000000</text>
<text x="925" y="321.9" textLength="56" lengthAdjust="spacingAndGlyphs">31.5000000</text>
<text x="925" y="349.9" textLength="56" lengthAdjust="spacingAndGlyphs">31.0000000</text>
<text x="925" y="377.9" textLength="56" lengthAdjust="spacingAndGlyphs">30.5000000</text>
<text x="925" y="406.9" textLength="56" lengthAdjust="spacingAndGlyphs">30.0000000</text>
<text x="925" y="462.9" textLength="56" lengthAdjust="spacingAndGlyphs">29.0000000</text>
<text x="925" y="490.9" textLength="56" lengthAdjust="spacingAndGlyphs">28.5000000</text>
<text x="925" y="518.9" textLength="56" lengthAdjust="spacingAndGlyphs">28.0000000</text>
<text x="925" y="547.9" textLength="56" lengthAdjust="spacingAndGlyphs">27.5000000</text>
</g>
<rect x="916" y="421" width="73" height="17" fill="#ee5351" shape-rendering="crispEdges"/>
<rect x="916" y="429" width="4" height="1" fill="#fff" shape-rendering="crispEdges"/>
<text x="925" y="433.4" class="b" style="font-size:10.6px;fill:#fff" textLength="56" lengthAdjust="spacingAndGlyphs">29.5199949</text>
<g class="ax" text-anchor="middle">
<text x="69.8" y="573.3" textLength="11.4" lengthAdjust="spacingAndGlyphs">20</text>
<text x="152.8" y="573.3" textLength="11.4" lengthAdjust="spacingAndGlyphs">22</text>
<text x="236.8" y="573.3" textLength="11.4" lengthAdjust="spacingAndGlyphs">24</text>
<text x="362.8" y="573.3" textLength="11.4" lengthAdjust="spacingAndGlyphs">27</text>
<text x="445.8" y="573.3" textLength="11.4" lengthAdjust="spacingAndGlyphs">29</text>
<text x="571.8" y="573.3" textLength="19.2" lengthAdjust="spacingAndGlyphs">Jun</text>
<text x="654.8" y="573.3" textLength="5.7" lengthAdjust="spacingAndGlyphs">3</text>
<text x="738.8" y="573.3" textLength="5.7" lengthAdjust="spacingAndGlyphs">5</text>
<text x="822.8" y="573.3" textLength="5.7" lengthAdjust="spacingAndGlyphs">7</text>
</g>
<text x="14.9" y="64.7" class="tt" textLength="46.4" lengthAdjust="spacingAndGlyphs">Binance</text>
<text x="64.9" y="64.7" class="tt" textLength="25.3" lengthAdjust="spacingAndGlyphs">Coin</text>
<text x="102.7" y="64.7" class="tt" textLength="16.0" lengthAdjust="spacingAndGlyphs">US</text>
<text x="122.4" y="64.7" class="tt" textLength="34.2" lengthAdjust="spacingAndGlyphs">Dollar</text>
<text x="160.0" y="64.7" class="tt" textLength="63.4" lengthAdjust="spacingAndGlyphs">(calculated</text>
<text x="227.5" y="64.7" class="tt" textLength="14.1" lengthAdjust="spacingAndGlyphs">by</text>
<text x="244.9" y="64.7" class="tt" textLength="80.2" lengthAdjust="spacingAndGlyphs">TradingView),</text>
<text x="329.1" y="64.7" class="tt" textLength="24.4" lengthAdjust="spacingAndGlyphs">120,</text>
<text x="357.3" y="64.7" class="tt" textLength="51.1" lengthAdjust="spacingAndGlyphs">BINANCE</text>
<text x="97.1" y="64.7" class="tt" text-anchor="middle" style="font-weight:normal;stroke:#474b59;stroke-width:0.3px" transform="translate(97.1,0) scale(1.5,1) translate(-97.1,0)">/</text>
<text x="5.7" y="16.6" class="hd bl" textLength="45.9" lengthAdjust="spacingAndGlyphs">valdrint</text>
<text x="55.1" y="16.6" class="hd" textLength="52.1" lengthAdjust="spacingAndGlyphs">published</text>
<text x="111.1" y="16.6" class="hd" textLength="14.2" lengthAdjust="spacingAndGlyphs">on</text>
<text x="128.1" y="16.6" class="hd" textLength="101.8" lengthAdjust="spacingAndGlyphs">TradingView.com,</text>
<text x="233.6" y="16.6" class="hd" textLength="25.0" lengthAdjust="spacingAndGlyphs">June</text>
<text x="262.5" y="16.6" class="hd" textLength="16.9" lengthAdjust="spacingAndGlyphs">05,</text>
<text x="283.3" y="16.6" class="hd" textLength="26.5" lengthAdjust="spacingAndGlyphs">2019</text>
<text x="313.6" y="16.6" class="hd" textLength="49.6" lengthAdjust="spacingAndGlyphs">06:50:49</text>
<text x="366.5" y="16.6" class="hd" textLength="26.9" lengthAdjust="spacingAndGlyphs">CEST</text>
<text x="6.3" y="33.8" class="hd b" textLength="110.0" lengthAdjust="spacingAndGlyphs">BINANCE:BNBUSD,</text>
<text x="119.6" y="33.8" class="hd b" textLength="20.5" lengthAdjust="spacingAndGlyphs">120</text>
<text x="353.0" y="33.8" class="hd b" textLength="12.9" lengthAdjust="spacingAndGlyphs">O:</text>
<text x="437.9" y="33.8" class="hd b" textLength="13.3" lengthAdjust="spacingAndGlyphs">H:</text>
<text x="523.0" y="33.8" class="hd b" textLength="9.3" lengthAdjust="spacingAndGlyphs">L:</text>
<text x="604.8" y="33.8" class="hd b" textLength="11.0" lengthAdjust="spacingAndGlyphs">C:</text>
<text x="145.4" y="33.8" class="hd" textLength="66.4" lengthAdjust="spacingAndGlyphs">29.5199949</text>
<text x="229.0" y="33.8" class="hd" textLength="66.6" lengthAdjust="spacingAndGlyphs">+0.2015837</text>
<text x="299.2" y="33.8" class="hd" textLength="48.9" lengthAdjust="spacingAndGlyphs">(+0.69%)</text>
<text x="366.9" y="33.8" class="hd gn" textLength="67.3" lengthAdjust="spacingAndGlyphs">29.9248768</text>
<text x="451.8" y="33.8" class="hd gn" textLength="66.8" lengthAdjust="spacingAndGlyphs">30.0794736</text>
<text x="533.8" y="33.8" class="hd gn" textLength="67.2" lengthAdjust="spacingAndGlyphs">29.3471254</text>
<text x="617.3" y="33.8" class="hd gn" textLength="66.8" lengthAdjust="spacingAndGlyphs">29.5199949</text>
<text x="220.6" y="33" text-anchor="middle" style="font-size:13.6px;fill:#0a9f0a;font-family:'DejaVu Sans','Liberation Sans',sans-serif">&#9650;</text>
<text x="5.9" y="604.7" class="hd" textLength="44.7" lengthAdjust="spacingAndGlyphs">Created</text>
<text x="53.6" y="604.7" class="hd" textLength="25.5" lengthAdjust="spacingAndGlyphs">with</text>
<g transform="translate(81.9,592.4)">
<path d="M4.4 14.4 A4.4 4.4 0 0 1 5.4 5.7 A5.8 5.8 0 0 1 15.9 2.7 Q18.6 3 20.6 5 L21.6 6.5 A4.3 4.3 0 0 1 19.5 14.4 Z" fill="#56c1e8"/>
<path d="M0.6 12.6 L8.9 5.8 L14.3 13.1 L22.3 3.4" fill="none" stroke="#fff" stroke-width="1.5" stroke-linejoin="miter"/>
</g>
<text x="105.7" y="604.7" class="hd bl" textLength="71.6" lengthAdjust="spacingAndGlyphs">TradingView</text>
</svg>
</body></html>
